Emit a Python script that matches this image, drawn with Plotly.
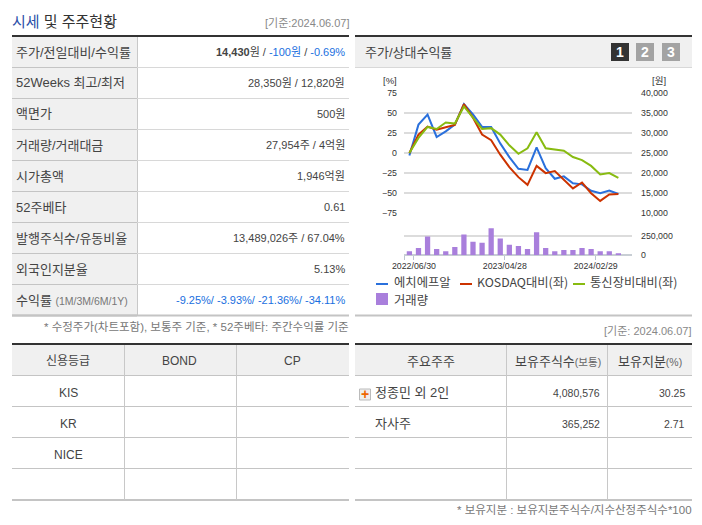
import plotly.graph_objects as go

W = 702
H = 525
KR = "Liberation Sans, Noto Sans CJK KR, sans-serif"
CJK = "Noto Sans CJK KR, sans-serif"

# chart data, one value per month from 2022/06 to 2024/05
months = ['2022/06', '2022/07', '2022/08', '2022/09', '2022/10', '2022/11', '2022/12', '2023/01',
          '2023/02', '2023/03', '2023/04', '2023/05', '2023/06', '2023/07', '2023/08', '2023/09',
          '2023/10', '2023/11', '2023/12', '2024/01', '2024/02', '2024/03', '2024/04', '2024/05']
hfr = [-3, 35.4, 47.9, 20, 27, 35.4, 61, 48, 32.5, 32.5, 12, -5,
       -19.6, -21, 7, -18.8, -32, -29, -37.5, -39, -47, -50, -46.7, -51]
kosdaq = [0, 23, 33, 29, 32, 35, 61, 44, 23, 16, -2, -17.5,
          -30, -39.6, -16, -25, -22.5, -33, -44, -36.7, -50, -59.6, -51.5, -51]
telecom = [0, 18.8, 32.5, 30, 38, 36.7, 58, 43.8, 30, 31, 23, 9.6,
           -1, 6, 26, 6, 4.6, 3, -5, -8.75, -16, -26.7, -25, -30.8]
volume = [53000, 94000, 241000, 80000, 53000, 107000, 268000, 174000, 161000, 348000, 214000, 134000,
          120000, 80000, 295000, 94000, 53000, 67000, 67000, 94000, 80000, 53000, 53000, 27000]

pct_ticks = [75, 50, 25, 0, -25, -50, -75]
price_ticks = [40000, 35000, 30000, 25000, 20000, 15000, 10000]
vol_ticks = [0, 250000, 500000]
vol_labels = ['0', '250,000', '']
date_labels = ['2022/06/30', '2023/04/28', '2024/02/29']

# table text
info_labels = ['주가/전일대비/수익률', '52Weeks 최고/최저', '액면가', '거래량/거래대금', '시가총액',
               '52주베타', '발행주식수/유동비율', '외국인지분율',
               '수익률 <span style="font-size:10.5px;color:#777">(1M/3M/6M/1Y)</span>']
BLUE = '<span style="color:#1a6fe0">%s</span>'
info_values = ['<b>14,430</b>원 / ' + BLUE % '-100원' + ' / ' + BLUE % '-0.69%',
               '28,350원 / 12,820원', '500원', '27,954주 / 4억원', '1,946억원', '0.61',
               '13,489,026주 / 67.04%', '5.13%',
               BLUE % '-9.25%/ -3.93%/ -21.36%/ -34.11%']
credit_head = ['신용등급', 'BOND', 'CP']
credit_rows = ['KIS', 'KR', 'NICE', '']
holder_head = ['주요주주', '보유주식수<span style="font-size:10.5px;color:#666">(보통)</span>',
               '보유지분<span style="font-size:10.5px;color:#666">(%)</span>']
holder_names = ['정종민 외 2인', '자사주']
holder_shares = ['4,080,576', '365,252']
holder_pct = ['30.25', '2.71']

legend_names = ['에치에프알', 'KOSDAQ대비(좌)', '통신장비대비(좌)', '거래량']
colors = ['#2a70dc', '#cc3300', '#88bb11', '#a97fdc']

shapes = []
notes = []


def fx(x):
    return x / W


def fy(y):
    return 1 - y / H


def rect(x0, y0, x1, y1, fill, line=None):
    shapes.append(dict(type='rect', xref='paper', yref='paper', x0=fx(x0), x1=fx(x1), y0=fy(y0), y1=fy(y1),
                       fillcolor=fill, line=dict(color=line or fill, width=1 if line else 0), layer='below'))


def hline(x0, x1, y, color='#d5d5d5', width=1):
    shapes.append(dict(type='line', xref='paper', yref='paper', x0=fx(x0), x1=fx(x1), y0=fy(y), y1=fy(y),
                       line=dict(color=color, width=width), layer='below'))


def vline(x, y0, y1, color='#c8c8c8', width=1):
    shapes.append(dict(type='line', xref='paper', yref='paper', x0=fx(x), x1=fx(x), y0=fy(y0), y1=fy(y1),
                       line=dict(color=color, width=width), layer='below'))


def text(x, y, s, size=12, color='#444444', anchor='left', family=KR):
    notes.append(dict(xref='paper', yref='paper', x=fx(x), y=fy(y), text=s, showarrow=False, xanchor=anchor,
                      yanchor='middle', align=anchor, borderpad=0, borderwidth=0,
                      font=dict(family=family, size=size, color=color)))


# left info table
text(12, 21, '<span style="color:#2b4fa8">시세</span> 및 주주현황', 15, '#333333')
text(349, 23, '[기준:2024.06.07]', 11, '#888888', 'right')
hline(12, 349, 36, '#333333', 2)
row_lines = [67.5, 98.5, 129.5, 160.5, 191.5, 222.5, 253.5, 284.5, 315.5]
rect(12, 37, 137, 315, '#f0f0f0')
vline(137.5, 37, 315)
prev = 37
for i in range(len(info_labels)):
    bottom = row_lines[i]
    hline(12, 349, bottom, '#c4c4c4' if i == 8 else '#d8d8d8', 2 if i == 8 else 1)
    hline(12, 137, bottom, '#c4c4c4', 2 if i == 8 else 1)
    text(16, (prev + bottom) / 2, info_labels[i], 13)
    text(345, (prev + bottom) / 2, info_values[i], 11, '#444444', 'right')
    prev = bottom
text(349, 326.5, '* 수정주가(차트포함), 보통주 기준, * 52주베타: 주간수익률 기준', 11.5, '#777777', 'right')

# chart panel frame
hline(355, 692, 36, '#333333', 2)
rect(355, 37, 692, 67, '#f0f0f0')
hline(355, 692, 67.5, '#d8d8d8')
hline(355, 692, 315.5, '#c4c4c4', 2)
text(365, 52, '주가/상대수익률', 13)
for x0, fill, label in [(611, '#333333', '1'), (636, '#a3a3a3', '2'), (662, '#a3a3a3', '3')]:
    rect(x0, 43, x0 + 18, 61, fill)
    text(x0 + 9, 52, '<b>%s</b>' % label, 14, '#ffffff', 'center')
text(397, 80, '[%]', 9.5, '#333333', 'right')
text(666, 80, '[원]', 9.5, '#333333', 'right')

# hand placed legend so the short keys and the wrapped row match
for x0, x1, tx, name, col in [(376, 388, 394, legend_names[0], colors[0]), (460, 472, 477, legend_names[1], colors[1]),
                              (573, 585, 590, legend_names[2], colors[2])]:
    hline(x0, x1, 284, col, 2)
    text(tx, 282, name, 12.3, '#444444', family=CJK)
rect(376, 293, 388, 305, colors[3])
text(394, 300, legend_names[3], 12.3, '#444444', family=CJK)
text(692, 331, '[기준: 2024.06.07]', 11, '#888888', 'right')

# lower left table
hline(12, 349, 344, '#333333', 2)
rect(12, 345, 349, 375, '#f0f0f0')
lower_lines = [375.5, 406.5, 437.5, 468.5, 500]
for i, y in enumerate(lower_lines):
    hline(12, 349, y, '#c4c4c4', 2 if i == 4 else 1)
vline(124.5, 345, 500)
vline(236.5, 345, 500)
for cx, s in zip([68, 180, 292], credit_head):
    text(cx, 361, s, 12, '#444444', 'center')
for i, s in enumerate(credit_rows):
    if s:
        text(68, 392.5 + i * 31, s, 12, '#444444', 'center')

# lower right table
hline(355, 692, 344, '#333333', 2)
rect(355, 345, 692, 375, '#f0f0f0')
for i, y in enumerate(lower_lines):
    hline(355, 692, y, '#c4c4c4', 2 if i == 4 else 1)
vline(506.5, 345, 500)
vline(607.5, 345, 500)
for cx, s in zip([431, 557.5, 650], holder_head):
    text(cx, 361, s, 13, '#444444', 'center')
rect(359.5, 389, 370.5, 400, '#eeeeee', '#bbbbbb')
text(365, 394, '<b>+</b>', 14, '#ee6600', 'center')
for i in range(len(holder_names)):
    ty = 392.5 + i * 31
    text(375, ty, holder_names[i], 13)
    text(600, ty, holder_shares[i], 10.5, '#444444', 'right')
    text(685, ty, holder_pct[i], 10.5, '#444444', 'right')
text(692, 510, '* 보유지분 : 보유지분주식수/지수산정주식수*100', 11.5, '#777777', 'right')

xs = list(range(len(months)))
fig = go.Figure()
for vals, name, col in zip([hfr, kosdaq, telecom], legend_names[:3], colors[:3]):
    fig.add_trace(go.Scatter(x=xs, y=vals, name=name, mode='lines', xaxis='x2', yaxis='y',
                             line=dict(color=col, width=2)))
fig.add_trace(go.Bar(x=xs, y=volume, name=legend_names[3], xaxis='x', yaxis='y3',
                     marker=dict(color=colors[3], line=dict(width=0)), width=0.58))
# empty trace, the price axis on the right only shows when something uses it
fig.add_trace(go.Scatter(x=[None], y=[None], mode='lines', xaxis='x2', yaxis='y2', hoverinfo='skip'))

tick_font = dict(family=KR, size=8.8, color='#333333')
x_dom = [fx(404), fx(632)]
x_range = [-0.594, 24.5]
# date ticks sit on the right edge of their month's band
tick_pos = [months.index(d[:7]) + 0.5 for d in date_labels]
fig.update_layout(
    template='none',
    width=W, height=H, margin=dict(l=0, r=0, t=0, b=0), paper_bgcolor='white', plot_bgcolor='rgba(0,0,0,0)',
    showlegend=False, shapes=shapes, annotations=notes,
    xaxis=dict(domain=x_dom, range=x_range, anchor='y3', tickmode='array', tickvals=[-0.56] + tick_pos,
               ticktext=[''] + date_labels, ticks='outside', ticklen=4, tickcolor='#bcc6d0', tickwidth=1,
               showgrid=False, zeroline=False, showline=False, tickfont=tick_font, automargin=False,
               ticklabelstandoff=-2),
    xaxis2=dict(domain=x_dom, range=x_range, anchor='y', visible=False),
    yaxis=dict(domain=[fy(213.3), fy(92.8)], range=[-75, 75], anchor='x2', tickmode='array', tickvals=pct_ticks,
               gridcolor='#dcdcdc', gridwidth=1.5, zeroline=False, showline=False, tickfont=tick_font,
               ticklabelstandoff=6, automargin=False),
    yaxis2=dict(domain=[fy(213.3), fy(92.8)], range=[10000, 40000], anchor='x2', overlaying='y', side='right',
                tickmode='array', tickvals=price_ticks, tickformat=',d', showgrid=False, zeroline=False,
                showline=False, tickfont=tick_font, ticklabelstandoff=8, automargin=False),
    yaxis3=dict(domain=[fy(255.3), fy(216.3)], range=[0, 500000], anchor='x', side='right', tickmode='array',
                tickvals=vol_ticks, ticktext=vol_labels, gridcolor='#dcdcdc', gridwidth=1.5, zeroline=True,
                zerolinecolor='#c8ced4', zerolinewidth=2, showline=False, tickfont=tick_font,
                ticklabelstandoff=8, automargin=False),
)
fig.write_html("out.html", config=dict(displayModeBar=False),
               post_script="document.body.style.margin='0';document.body.style.overflow='hidden';")
